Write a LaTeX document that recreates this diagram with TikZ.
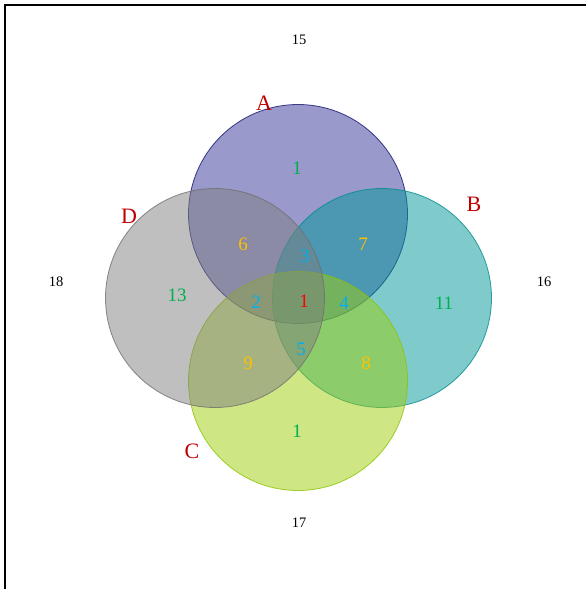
\documentclass[tikz,border=0pt]{standalone}
\usepackage{fontspec}
\setmainfont{Liberation Serif}
\usepackage{xcolor}
\usepackage{tikz}
\usetikzlibrary{positioning}
\definecolor{SetA}{RGB}{51,51,153}
\definecolor{SetB}{RGB}{0,151,153}
\definecolor{SetC}{RGB}{157,205,10}
\definecolor{SetD}{RGB}{127,127,127}
\definecolor{LineA}{RGB}{20,20,110}
\definecolor{LineB}{RGB}{0,139,139}
\definecolor{LineC}{RGB}{140,195,0}
\definecolor{LineD}{RGB}{110,110,110}
\definecolor{NumGreen}{RGB}{0,176,80}
\definecolor{NumGold}{RGB}{255,192,0}
\definecolor{NumBlue}{RGB}{0,176,240}
\definecolor{NumRed}{RGB}{255,0,0}
\definecolor{SetRed}{RGB}{192,0,0}
\tikzset{
  %%── 集合圆 ──────────────────────────────
  setcirc/.style args = {#1/#2}{
    circle, minimum size = 219pt, inner sep = 0pt,
    fill = #1, fill opacity = 0.5,
    draw = #2, draw opacity = 0.8, line width = 0.8pt
  },
  %%── 标签 ────────────────────────────────
  setname/.style = {text = SetRed, font = \fontsize{22}{22}\selectfont, inner sep = 0pt},
  cnt/.style     = {text = #1, font = \fontsize{19}{19}\selectfont, inner sep = 0pt},
  outcnt/.style  = {text = black, font = \fontsize{14.5}{14.5}\selectfont, inner sep = 0pt},
}
\begin{document}
\begin{tikzpicture}[x = 1pt, y = -1pt]
  \useasboundingbox (0,0) rectangle (586,589);

  %% 外框
  \coordinate (fbl) at (5,592);
  \coordinate (ftl) at (5,5);
  \coordinate (ftr) at (590,5);
  \draw[line width = 1.6pt] (fbl) -- (ftl) -- (ftr);

  %% 四个集合
  \node[setcirc = SetA/LineA] (A) at (298,214) {};
  \node[setcirc = SetB/LineB] (B) at (382,298) {};
  \node[setcirc = SetC/LineC] (C) at (298,381) {};
  \node[setcirc = SetD/LineD] (D) at (215,298) {};

  %% 集合名
  \node[setname] (nA) at (264,103) {A};
  \node[setname] (nB) at (474,204) {B};
  \node[setname] (nC) at (192,451) {C};
  \node[setname] (nD) at (129,216) {D};

  %% 区域计数
  \node[cnt = NumGreen] (a)    at (297,168) {1};
  \node[cnt = NumGreen] (b)    at (444,303) {11};
  \node[cnt = NumGreen] (c)    at (297,431) {1};
  \node[cnt = NumGreen] (d)    at (177,295) {13};
  \node[cnt = NumGold]  (ad)   at (243,244) {6};
  \node[cnt = NumGold]  (ab)   at (363,244) {7};
  \node[cnt = NumGold]  (bc)   at (366,363) {8};
  \node[cnt = NumGold]  (cd)   at (248,363) {9};
  \node[cnt = NumBlue]  (abd)  at (305,256) {3};
  \node[cnt = NumBlue]  (acd)  at (256,302) {2};
  \node[cnt = NumBlue]  (abc)  at (344,303) {4};
  \node[cnt = NumBlue]  (bcd)  at (301,349) {5};
  \node[cnt = NumRed]   (abcd) at (304,301) {1};

  %% 集合外
  \node[outcnt] (oT) at (299,40)  {15};
  \node[outcnt] (oR) at (544,282) {16};
  \node[outcnt] (oB) at (299,523) {17};
  \node[outcnt] (oL) at (56,282)  {18};
\end{tikzpicture}
\end{document}
